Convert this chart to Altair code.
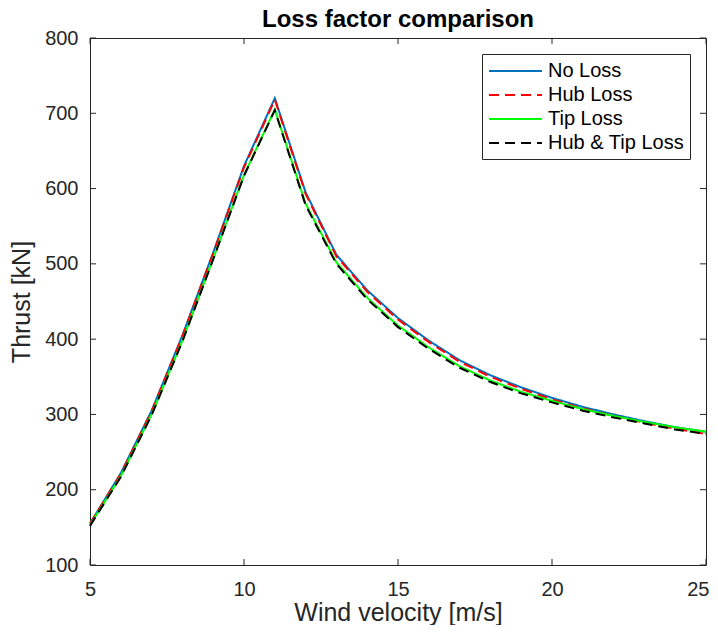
import altair as alt
import pandas as pd

wind = list(range(5, 26))
no_loss = [155, 222, 305, 405, 515, 630, 720, 595, 512, 465, 428, 398, 372, 352, 336, 322, 310, 300, 291, 283, 277]
hub_loss = [155, 221, 304, 404, 514, 628, 718, 593, 510, 463, 426, 396, 370, 350, 334, 320, 308, 298, 289, 281, 274]
tip_loss = [153, 218, 300, 398, 507, 618, 705, 580, 502, 455, 418, 389, 364, 345, 330, 318, 307, 298, 290, 283, 277]
hub_tip_loss = [152, 217, 299, 397, 506, 617, 704, 578, 500, 453, 416, 387, 362, 343, 328, 316, 305, 296, 288, 280, 274]

series_names = ["No Loss", "Hub Loss", "Tip Loss", "Hub & Tip Loss"]
series_vals = [no_loss, hub_loss, tip_loss, hub_tip_loss]
colors = ["#0072BD", "#FF0000", "#00FF00", "#000000"]
dashes = [[1, 0], [10, 6], [1, 0], [10, 6]]

x_ticks = [5, 10, 15, 20, 25]
y_ticks = [100, 200, 300, 400, 500, 600, 700, 800]

rows = []
for name, vals in zip(series_names, series_vals):
    for w, v in zip(wind, vals):
        rows.append({"wind": w, "thrust": v, "series": name})
df = pd.DataFrame(rows)

W, H = 616, 527
xs = alt.Scale(domain=[5, 25], nice=False, zero=False)
ys = alt.Scale(domain=[100, 800], nice=False, zero=False)

color = alt.Color("series:N", scale=alt.Scale(domain=series_names, range=colors),
                  legend=alt.Legend(title=None, orient="top-right", symbolType="M-1,0H4.3",
                                    symbolSize=400, symbolStrokeWidth=2, labelOffset=38,
                                    labelFontSize=20, padding=6, rowPadding=3, offset=16),
                  title=None)
dash = alt.StrokeDash("series:N", scale=alt.Scale(domain=series_names, range=dashes),
                      title=None)

xax = alt.Axis(values=x_ticks, ticks=False, grid=False, domain=False, labelPadding=14,
               labelFlush=False,
               labelAlign={"condition": {"test": "datum.value == 25", "value": "right"},
                           "value": "center"},
               labelOffset={"condition": {"test": "datum.value == 25", "value": 3},
                            "value": 0},
               title="Wind velocity [m/s]", titlePadding=1)
yax = alt.Axis(values=y_ticks, ticks=False, grid=False, domain=False, labelPadding=12,
               labelFlush=False, title="Thrust [kN]", titlePadding=10)

X = lambda f: alt.X(f, scale=xs, axis=xax)
Y = lambda f: alt.Y(f, scale=ys, axis=yax)

layers = []
for i, name in enumerate(series_names):
    layers.append(
        alt.Chart(df).transform_filter(alt.datum.series == name)
        .mark_line(strokeWidth=2).encode(x=X("wind:Q"), y=Y("thrust:Q"),
                                         color=color, strokeDash=dash)
    )

xt = pd.DataFrame({"t": x_ticks})
yt = pd.DataFrame({"t": y_ticks})
tick_style = dict(color="#262626", strokeWidth=1)
xb = alt.Chart(xt).mark_rule(**tick_style).encode(x=X("t:Q"), y=alt.value(H), y2=alt.value(H - 6))
xtp = alt.Chart(xt).mark_rule(**tick_style).encode(x=X("t:Q"), y=alt.value(0), y2=alt.value(6))
yl = alt.Chart(yt).mark_rule(**tick_style).encode(y=Y("t:Q"), x=alt.value(0), x2=alt.value(6))
yr = alt.Chart(yt).mark_rule(**tick_style).encode(y=Y("t:Q"), x=alt.value(W), x2=alt.value(W - 6))

chart = alt.layer(*layers, xb, xtp, yl, yr).properties(
    width=W, height=H,
    title=alt.TitleParams("Loss factor comparison", fontSize=24, fontWeight="bold",
                          font="Liberation Sans", color="#000000", offset=0, dy=4,
                          frame="group"),
    autosize=alt.AutoSizeParams(type="none"),
    padding={"left": 82, "top": 30, "right": 4, "bottom": 60},
).configure(font="Liberation Sans").configure_view(
    stroke="#262626", strokeWidth=1
).configure_axis(
    labelFontSize=20, titleFontSize=25, labelColor="#262626", titleColor="#262626",
    labelFont="Liberation Sans", titleFont="Liberation Sans", titleFontWeight="normal"
).configure_legend(
    labelFont="Liberation Sans", labelColor="#000000",
    strokeColor="#262626", fillColor="white", labelLimit=300
)

chart.save("out.html", embed_options={"renderer": "svg", "actions": False})
